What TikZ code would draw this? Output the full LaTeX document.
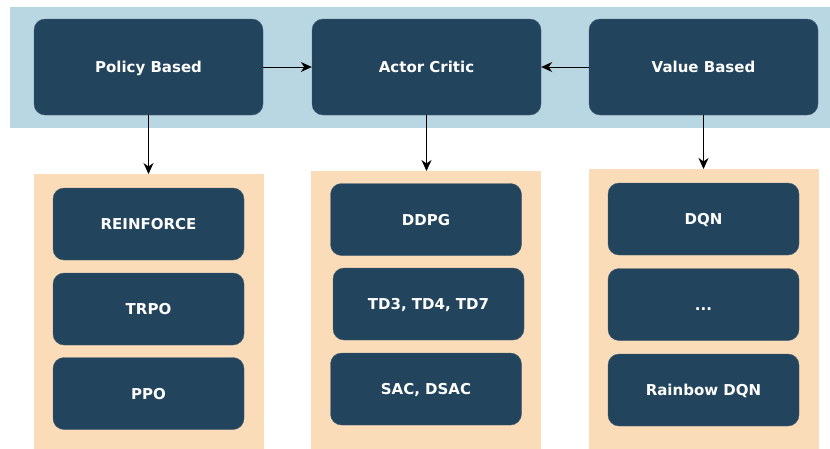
\documentclass[tikz,border=0pt]{standalone}
\usepackage{fontspec}
\setmainfont{DejaVu Sans}
\usetikzlibrary{arrows.meta}

\definecolor{bandblue}{HTML}{B9D6E3}
\definecolor{panelorange}{HTML}{FADCB9}
\definecolor{boxnavy}{HTML}{23445D}

\begin{document}
\begin{tikzpicture}[x=1pt, y=-1pt,
    catbox/.style={fill=boxnavy, draw=boxnavy!85!white, rounded corners=11pt,
        minimum width=229pt, minimum height=96pt, text=white,
        text depth=0pt, text height=11pt,
        font=\fontsize{15}{18}\selectfont\bfseries},
    algbox/.style={catbox, minimum width=191pt, minimum height=72pt},
    panel/.style={fill=panelorange, minimum width=230pt, minimum height=300pt, anchor=north},
    arr/.style={-{Stealth[length=11pt, width=10pt, inset=3.5pt]}, line width=1pt}]

    \useasboundingbox (0,0) rectangle (830,448);
    \clip (0,0) rectangle (830,448);

    % Top band
    \fill[bandblue] (10,7) rectangle (840,128);

    % Categories
    \node[catbox] (policy) at (148.5,67) {Policy Based};
    \node[catbox] (actor)  at (426.5,67) {Actor Critic};
    \node[catbox] (value)  at (703.5,67) {Value Based};

    \draw[arr] (policy) -- (actor);
    \draw[arr] (value) -- (actor);

    % Panels
    \node[panel] (ppanel) at (149,174) {};
    \node[panel] (apanel) at (426,171) {};
    \node[panel] (vpanel) at (704,169) {};

    \draw[arr] (policy.south) -- (policy.south |- ppanel.north);
    \draw[arr] (actor.south) -- (actor.south |- apanel.north);
    \draw[arr] (value.south) -- (value.south |- vpanel.north);

    % Policy based algorithms
    \node[algbox] (reinforce) at (148.5,224)   {REINFORCE};
    \node[algbox] (trpo)      at (148.5,309)   {TRPO};
    \node[algbox] (ppo)       at (148.5,393.5) {PPO};

    % Actor critic algorithms
    \node[algbox] (ddpg) at (426,219.5) {DDPG};
    \node[algbox] (td)   at (428.5,304) {TD3, TD4, TD7};
    \node[algbox] (sac)  at (426,389)   {SAC, DSAC};

    % Value based algorithms
    \node[algbox] (dqn)     at (703.5,219)   {DQN};
    \node[algbox] (dots)    at (703.5,304.5) {...};
    \node[algbox] (rainbow) at (703.5,390)   {Rainbow DQN};

\end{tikzpicture}
\end{document}
